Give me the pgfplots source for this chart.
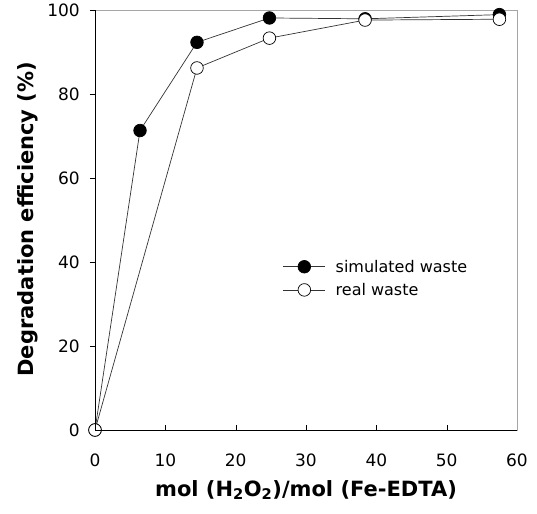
\documentclass[border=0pt]{standalone}
\usepackage{pgfplots}
\pgfplotsset{compat=1.18}
\usepackage{fontspec}
\setmainfont{DejaVu Sans}

\begin{document}
\begin{tikzpicture}
\begin{axis}[
    scale only axis,
    width=422pt, height=420pt,
    xmin=0, xmax=60, ymin=0, ymax=100,
    xtick={0,10,...,60}, ytick={0,20,...,100},
    xtick pos=bottom, ytick pos=left,
    x tick style={black}, y tick style={black},
    xtick align=inside, ytick align=outside,
    major tick length=5pt,
    axis line style={gray!70},
    tick label style={font=\fontsize{17}{20}\selectfont},
    /pgf/number format/assume math mode=true,
    xticklabel style={anchor=center, inner sep=0pt, yshift=-30pt},
    yticklabel style={anchor=east, inner sep=0pt, xshift=-10pt},
    xlabel={\textbf{mol (H\textsubscript{2}O\textsubscript{2})/mol (Fe-EDTA)}},
    ylabel={\textbf{Degradation efficiency (\%)}},
    xlabel style={font=\fontsize{21}{24}\selectfont, at={(axis description cs:0.5,0)}, anchor=center, yshift=-60pt},
    ylabel style={font=\fontsize{21}{24}\selectfont, at={(axis description cs:-0.16,0.502)}, anchor=center},
    clip=false,
    legend style={draw=none, fill=none, inner sep=0pt, at={(axis cs:26.7,40.6)}, anchor=north west,
        font=\fontsize{16}{19}\selectfont, row sep=9pt,
        nodes={inner sep=1pt, text depth=0pt},
        /tikz/every odd column/.append style={column sep=9pt}},
    legend cell align=left,
    legend image code/.code={
        \draw[mark repeat=2, mark phase=2, #1] plot coordinates {(0pt,0pt) (21pt,0pt) (42pt,0pt)};
    },
]
\addplot[black!80, line width=0.7pt, mark=*, mark size=6.3pt, mark options={fill=black, draw=black, line width=0.7pt}]
coordinates {(0,0)(6.4,71.3)(14.5,92.3)(24.8,98.1)(38.4,97.9)(57.5,98.9)};
\addplot[black!80, line width=0.7pt, mark=*, mark size=6.3pt, mark options={fill=white, draw=black, line width=0.7pt}]
coordinates {(0,0)(14.5,86.2)(24.8,93.3)(38.4,97.6)(57.5,97.8)};
\legend{simulated waste, real waste}
\end{axis}
\draw[black, line width=0.5pt] (current axis.south west) -- (current axis.north west);
\draw[black, line width=0.5pt] (current axis.south west) -- (current axis.south east);
\pgfresetboundingbox
\path[use as bounding box] (current axis.south west) ++(-95pt,-83pt) rectangle ++(537pt,513pt);
\end{tikzpicture}
\end{document}
